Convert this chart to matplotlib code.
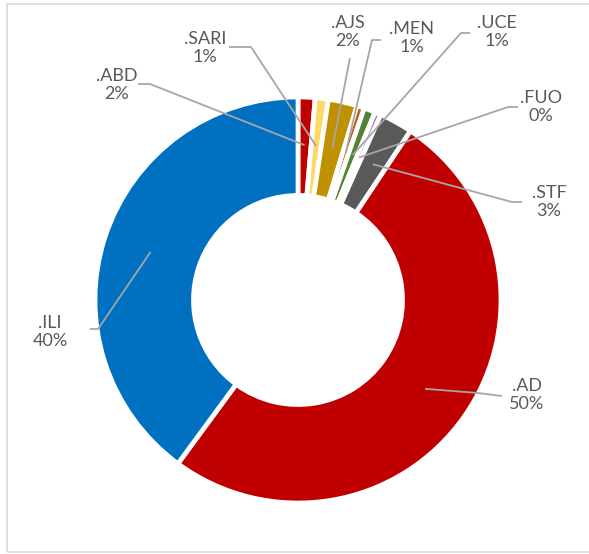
import numpy as np
import matplotlib
matplotlib.use("Agg")
import matplotlib.pyplot as plt
from matplotlib.patches import Rectangle

# ---------------------------------------------------------------- data
names = [".ABD", ".SARI", ".AJS", ".MEN", ".UCE", ".FUO", ".STF", ".AD", ".ILI"]
shares = [1.35, 1.04, 2.3, 0.6, 0.9, 0.5, 2.65, 50.7, 39.9]      # estimated slice sizes
shown_pct = ["2%", "1%", "2%", "1%", "1%", "0%", "3%", "50%", "40%"]  # as printed
colors = ["#C00000", "#FFD966", "#BF9000", "#C55A11", "#548235",
          "#9A7FD1", "#595959", "#C00000", "#0070C0"]

# label layout (pixel coords, y from top): text centre, then elbow polyline start
label_xy = [(117, 85), (205, 48), (348, 32), (412, 38), (497, 32),
            (541, 107), (549, 202), (527, 395), (50, 332)]
elbow = [[(138, 84), (150, 84)], [(229, 47), (251, 47)], [(350, 58)],
         [(381, 40), (372, 40)], [(470, 33), (461, 33)], [(518, 107), (508, 107)],
         [(522, 202), (512, 202)], [(502, 396), (478, 393)], [(90, 329), (98, 329)]]

W, H = 589, 554
CX, CY, R = 298, 300, 203

plt.rcParams["font.family"] = ["Lato", "DejaVu Sans"]
fig = plt.figure(figsize=(W / 100, H / 100), dpi=100)
ax = fig.add_axes([0, 0, 1, 1])

wedges, _ = ax.pie(shares, colors=colors, startangle=90, counterclock=False,
                   center=(CX, H - CY), radius=R,
                   wedgeprops=dict(width=R * 0.485, edgecolor="white", linewidth=3.4))

for w, nm, pct, (tx, ty), pts in zip(wedges, names, shown_pct, label_xy, elbow):
    mid = np.deg2rad((w.theta1 + w.theta2) / 2)
    ex, ey = CX + 155 * np.cos(mid), (H - CY) + 155 * np.sin(mid)
    xs = [p[0] for p in pts] + [ex]
    ys = [H - p[1] for p in pts] + [ey]
    ax.plot(xs, ys, color="#A6A6A6", lw=1.3, solid_capstyle="butt", zorder=3)
    ax.text(tx, H - ty, f"{nm}\n{pct}", ha="center", va="center",
            fontsize=13, color="#595959", linespacing=1.2)

# chart area border
ax.add_patch(Rectangle((7, H - 552), 600, 548, fill=False,
                       edgecolor="#D9D9D9", lw=1.2, clip_on=False))

ax.set_xlim(0, W)
ax.set_ylim(0, H)
ax.set_aspect("equal")
ax.set_axis_off()
fig.savefig("out.png", dpi=100)
